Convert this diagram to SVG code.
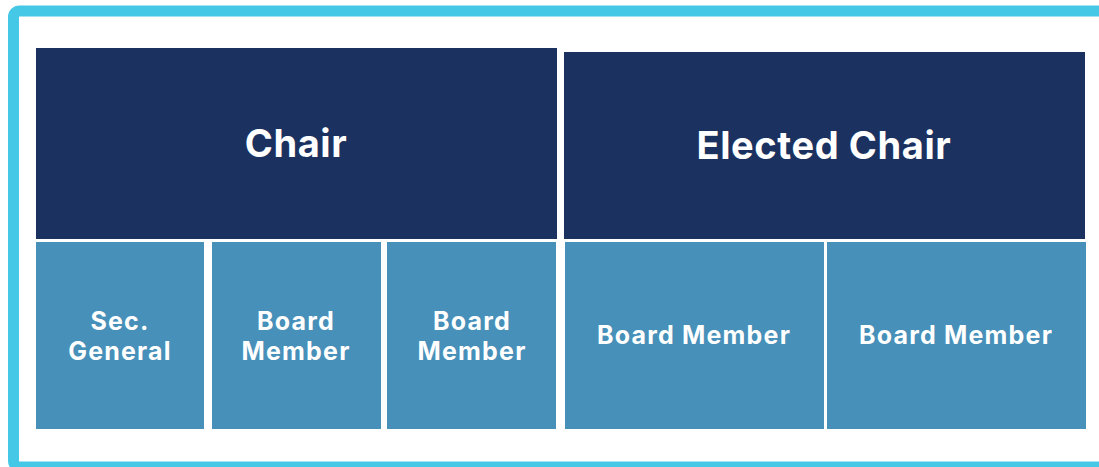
<svg xmlns="http://www.w3.org/2000/svg" width="1099" height="467" viewBox="0 0 1099 467">
<style>
.top{fill:#1b3260}
.sub{fill:#4690b9}
text{fill:#ffffff;font-family:Inter,"Open Sans","Liberation Sans",sans-serif;font-weight:700;text-anchor:middle;dominant-baseline:central}
.big{font-size:38px;letter-spacing:0.6px}
.sm{font-size:25px;letter-spacing:1.2px}
</style>
<rect x="0" y="0" width="1099" height="467" fill="#ffffff"/>
<rect x="13.5" y="11" width="1100" height="456" rx="6" fill="none" stroke="#45c8e6" stroke-width="11"/>
<g id="chair"><rect class="top" x="36" y="48" width="521" height="191"/><text class="big" x="296" y="143">Chair</text></g>
<g id="elected-chair"><rect class="top" x="564" y="52" width="521" height="187"/><text class="big" x="824" y="145">Elected Chair</text></g>
<g id="sec-general"><rect class="sub" x="36" y="242" width="168" height="187"/><text class="sm" x="120" y="321">Sec.</text><text class="sm" x="120" y="351">General</text></g>
<g id="board-member-1"><rect class="sub" x="212" y="242" width="169" height="187"/><text class="sm" x="296" y="321">Board</text><text class="sm" x="296" y="351">Member</text></g>
<g id="board-member-2"><rect class="sub" x="387" y="242" width="169" height="187"/><text class="sm" x="472" y="321">Board</text><text class="sm" x="472" y="351">Member</text></g>
<g id="board-member-3"><rect class="sub" x="565" y="242" width="259" height="187"/><text class="sm" x="694" y="335">Board Member</text></g>
<g id="board-member-4"><rect class="sub" x="827" y="242" width="259" height="187"/><text class="sm" x="956" y="335">Board Member</text></g>
<g id="connectors"></g>
</svg>
